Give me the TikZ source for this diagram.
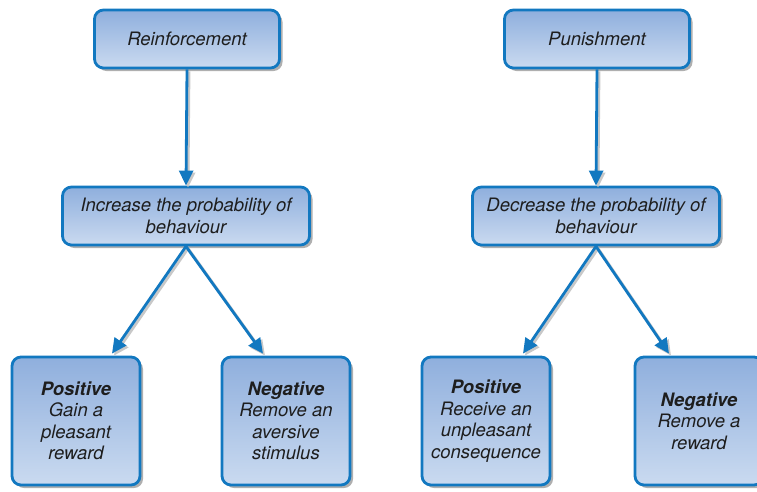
\documentclass[tikz,border=0pt]{standalone}
\usepackage{fontspec}
\setmainfont{TeX Gyre Heros}
\usetikzlibrary{arrows.meta,shadows,calc}
\definecolor{bord}{RGB}{18,120,192}
\definecolor{filltop}{RGB}{143,175,221}
\definecolor{fillbot}{RGB}{202,218,240}
\definecolor{txt}{RGB}{30,30,30}
\definecolor{shad}{RGB}{175,175,175}
\definecolor{ashad}{RGB}{200,200,200}
\tikzset{
  box/.style={rectangle, rounded corners=9pt, draw=bord, line width=2.8pt,
    top color=filltop, bottom color=fillbot, inner sep=0pt, align=center,
    text=txt, font=\fontsize{18.5}{21.5}\selectfont\itshape,
    drop shadow={shadow xshift=3pt, shadow yshift=-3pt, fill=shad, opacity=1}},
  topbox/.style={box, minimum width=185pt, minimum height=58pt},
  midbox/.style={box, minimum width=247pt, minimum height=58pt},
  leafbox/.style={box, minimum width=128pt, minimum height=128pt},
  conn/.style={draw=bord, line width=2.8pt, -{Triangle[length=15pt,width=14pt]},
    preaction={draw=ashad, line width=2.8pt, -{Triangle[length=15pt,width=14pt]},
      transform canvas={xshift=2pt,yshift=-2pt}}}
}
\newcommand{\hd}[1]{{\bfseries #1}}
\begin{document}
\begin{tikzpicture}[x=1pt,y=-1pt]
\useasboundingbox (0,0) rectangle (757,491);
\node[topbox] (r) at (187,39) {Reinforcement};
\node[topbox] (p) at (597,39) {Punishment};
\node[midbox] (ri) at (186,216) {Increase the probability of\\behaviour};
\node[midbox] (pd) at (596,216) {Decrease the probability of\\behaviour};
\node[leafbox] (rp) at (76,421) {\hd{Positive}\\Gain a\\pleasant\\reward};
\node[leafbox] (rn) at (286,421) {\hd{Negative}\\Remove an\\aversive\\stimulus};
\node[leafbox] (pp) at (486,421) {\hd{Positive}\\Receive an\\unpleasant\\consequence};
\node[leafbox] (pn) at (699,421) {\hd{Negative}\\Remove a\\reward};
\draw[conn] (r.south) -- (ri.north);
\draw[conn] (p.south) -- (pd.north);
\draw[conn] (ri.south) -- ([xshift=36pt,yshift=2pt]rp.north);
\draw[conn] (ri.south) -- ([xshift=-23pt,yshift=2pt]rn.north);
\draw[conn] (pd.south) -- ([xshift=37pt,yshift=2pt]pp.north);
\draw[conn] (pd.south) -- ([xshift=-30pt,yshift=2pt]pn.north);
\end{tikzpicture}
\end{document}
